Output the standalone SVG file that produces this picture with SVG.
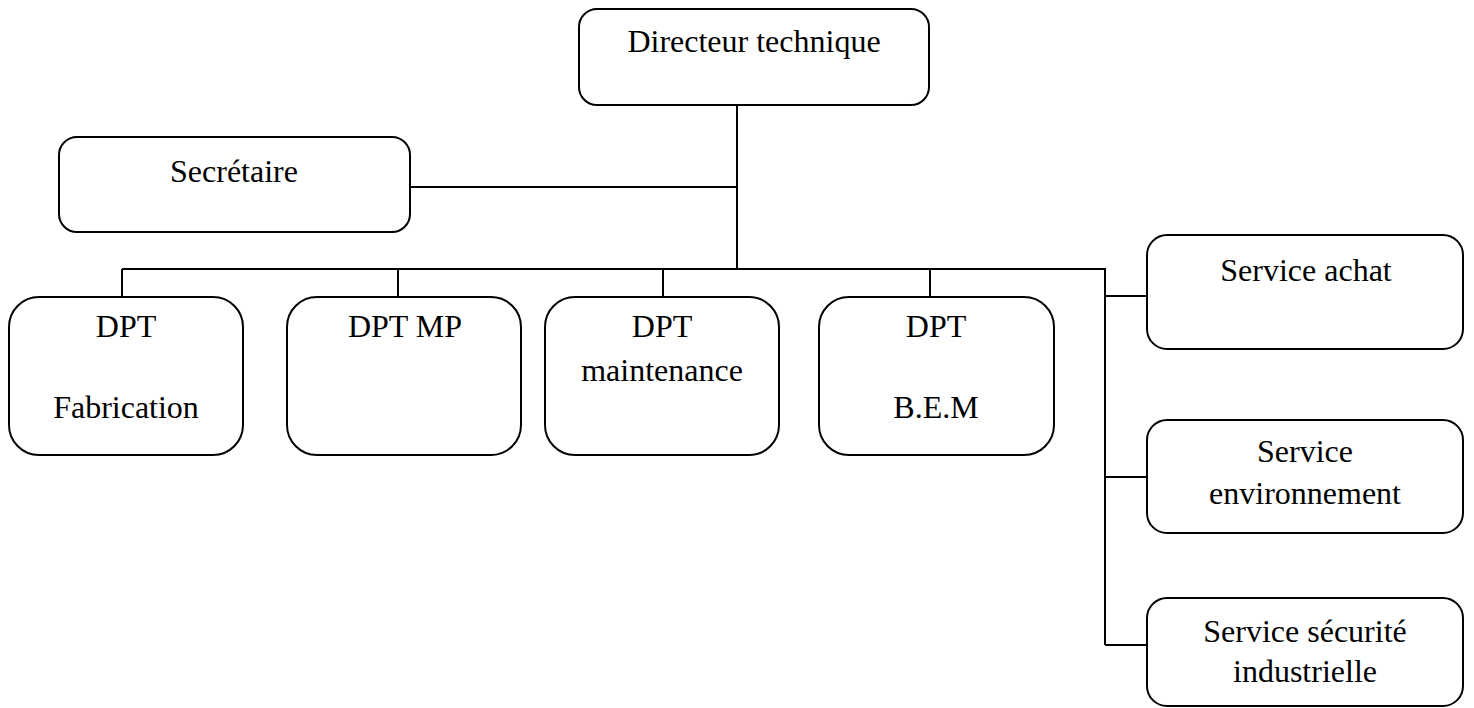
<svg xmlns="http://www.w3.org/2000/svg" width="1474" height="708" viewBox="0 0 1474 708">
  <style>
    .box { fill: #ffffff; stroke: #000000; stroke-width: 2; }
    .lbl { font-family: "Liberation Serif", "Times New Roman", serif; font-size: 32px; fill: #000000; text-anchor: middle; }
    .wire { fill: none; stroke: #000000; stroke-width: 2; }
  </style>
  <rect width="1474" height="708" fill="#ffffff"/>

  <!-- connectors -->
  <g id="connectors" class="wire">
    <path d="M737 105 V269"/>
    <path d="M410 187 H737"/>
    <path d="M122 269 H1105 V645"/>
    <path d="M122 269 V297"/>
    <path d="M398 269 V297"/>
    <path d="M663 269 V297"/>
    <path d="M930 269 V297"/>
    <path d="M1105 296 H1147"/>
    <path d="M1105 477 H1147"/>
    <path d="M1105 645 H1147"/>
  </g>

  <g id="directeur">
    <rect class="box" x="579" y="9" width="350" height="96" rx="18"/>
    <text class="lbl" x="754" y="52">Directeur technique</text>
  </g>

  <g id="secretaire">
    <rect class="box" x="59" y="137" width="351" height="95" rx="18"/>
    <text class="lbl" x="234" y="182">Secrétaire</text>
  </g>

  <g id="dpt-fabrication">
    <rect class="box" x="9" y="297" width="234" height="158" rx="30"/>
    <text class="lbl" x="126" y="337">DPT</text>
    <text class="lbl" x="126" y="418">Fabrication</text>
  </g>

  <g id="dpt-mp">
    <rect class="box" x="287" y="297" width="234" height="158" rx="30"/>
    <text class="lbl" x="405" y="337">DPT MP</text>
  </g>

  <g id="dpt-maintenance">
    <rect class="box" x="545" y="297" width="234" height="158" rx="30"/>
    <text class="lbl" x="662" y="337">DPT</text>
    <text class="lbl" x="662" y="381">maintenance</text>
  </g>

  <g id="dpt-bem">
    <rect class="box" x="819" y="297" width="235" height="158" rx="30"/>
    <text class="lbl" x="936" y="337">DPT</text>
    <text class="lbl" x="936" y="418">B.E.M</text>
  </g>

  <g id="service-achat">
    <rect class="box" x="1147" y="235" width="316" height="114" rx="20"/>
    <text class="lbl" x="1306" y="281">Service achat</text>
  </g>

  <g id="service-environnement">
    <rect class="box" x="1147" y="420" width="316" height="113" rx="20"/>
    <text class="lbl" x="1305" y="462">Service</text>
    <text class="lbl" x="1305" y="504">environnement</text>
  </g>

  <g id="service-securite">
    <rect class="box" x="1147" y="598" width="316" height="108" rx="20"/>
    <text class="lbl" x="1305" y="642">Service sécurité</text>
    <text class="lbl" x="1305" y="682">industrielle</text>
  </g>
</svg>
